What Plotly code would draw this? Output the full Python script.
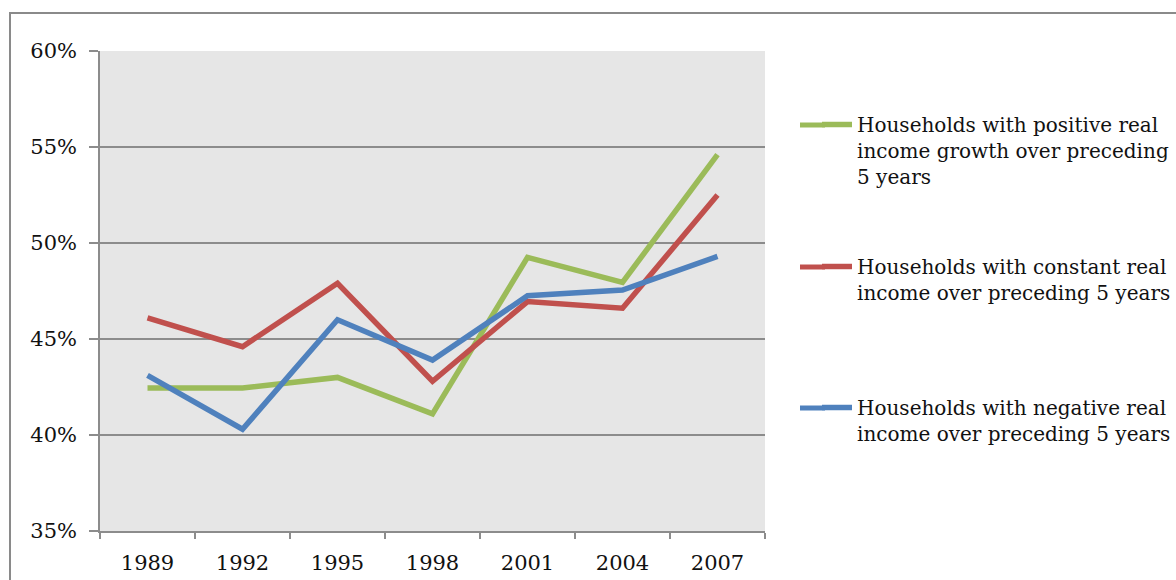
import plotly.graph_objects as go

# Survey years and share of households (%) in each income-change group
years = ["1989", "1992", "1995", "1998", "2001", "2004", "2007"]
positive_growth = [42.45, 42.45, 43.0, 41.1, 49.25, 47.95, 54.6]
constant_income = [46.1, 44.6, 47.9, 42.8, 46.95, 46.6, 52.5]
negative_income = [43.1, 40.3, 46.0, 43.9, 47.25, 47.55, 49.3]

series_names = [
    "Households with positive real<br>income growth over preceding<br>5 years",
    "Households with constant real<br>income over preceding 5 years",
    "Households with negative real<br>income over preceding 5 years",
]
series_values = [positive_growth, constant_income, negative_income]
series_colors = ["#9BBB59", "#C0504D", "#4F81BD"]
legend_ids = ["legend", "legend2", "legend3"]

W, H = 1176, 580
L, R, T, B = 100, 411, 51, 49
plot_w = W - L - R
plot_h = H - T - B

serif = "DejaVu Serif"
grid_col = "#8c8c8c"
text_col = "#111111"

fig = go.Figure()
for name, vals, col, lg in zip(series_names, series_values, series_colors, legend_ids):
    fig.add_trace(go.Scatter(
        x=years,
        y=[v / 100 for v in vals],
        mode="lines",
        name=name,
        line=dict(color=col, width=5.5),
        legend=lg,
    ))


def px_x(px):
    return (px - L) / plot_w


def px_y(py):
    return (H - B - py) / plot_h


legend_common = dict(
    xanchor="left", yanchor="top",
    font=dict(family=serif, size=20, color=text_col),
    bgcolor="rgba(0,0,0,0)", borderwidth=0,
    itemwidth=30, valign="top",
)
legend_left = 817
legend_tops = [105, 247, 388]
sample_offset = 20  # legend swatch sits this far below the legend top

layout_legends = {}
for lg, top in zip(legend_ids, legend_tops):
    layout_legends[lg] = dict(x=px_x(legend_left), y=px_y(top), **legend_common)

# Lengthen each legend swatch to the left so it reads as a longer stroke
swatch_tails = [
    dict(type="line", xref="paper", yref="paper",
         x0=px_x(800), x1=px_x(legend_left + 8),
         y0=px_y(top + sample_offset), y1=px_y(top + sample_offset),
         line=dict(color=col, width=5))
    for top, col in zip(legend_tops, series_colors)
]

frame = dict(type="rect", xref="paper", yref="paper",
             x0=px_x(10), x1=px_x(W + 20), y0=px_y(H + 20), y1=px_y(13),
             line=dict(color="#8a8a8a", width=2), fillcolor="rgba(0,0,0,0)",
             layer="below")

fig.update_layout(
    width=W, height=H,
    margin=dict(l=L, r=R, t=T, b=B, autoexpand=False),
    paper_bgcolor="white",
    plot_bgcolor="#E6E6E6",
    showlegend=True,
    xaxis=dict(
        type="category",
        range=[-0.5, len(years) - 0.5],
        tickson="boundaries",
        ticks="outside", ticklen=6, tickwidth=1.5, tickcolor=grid_col,
        showline=True, linecolor=grid_col, linewidth=1.5,
        showgrid=False, zeroline=False,
        tickfont=dict(family=serif, size=21, color=text_col),
        ticklabelstandoff=12,
        automargin=False,
    ),
    yaxis=dict(
        range=[0.35, 0.60],
        tickvals=[0.35, 0.40, 0.45, 0.50, 0.55, 0.60],
        tickformat=".0%",
        ticks="outside", ticklen=9, tickwidth=1.5, tickcolor=grid_col,
        showline=True, linecolor=grid_col, linewidth=1.5,
        showgrid=True, gridcolor=grid_col, gridwidth=1.5,
        zeroline=False,
        tickfont=dict(family=serif, size=21, color=text_col),
        ticklabelstandoff=8,
        automargin=False,
    ),
    shapes=[frame] + swatch_tails,
    **layout_legends,
)

fig.write_html("out.html")
